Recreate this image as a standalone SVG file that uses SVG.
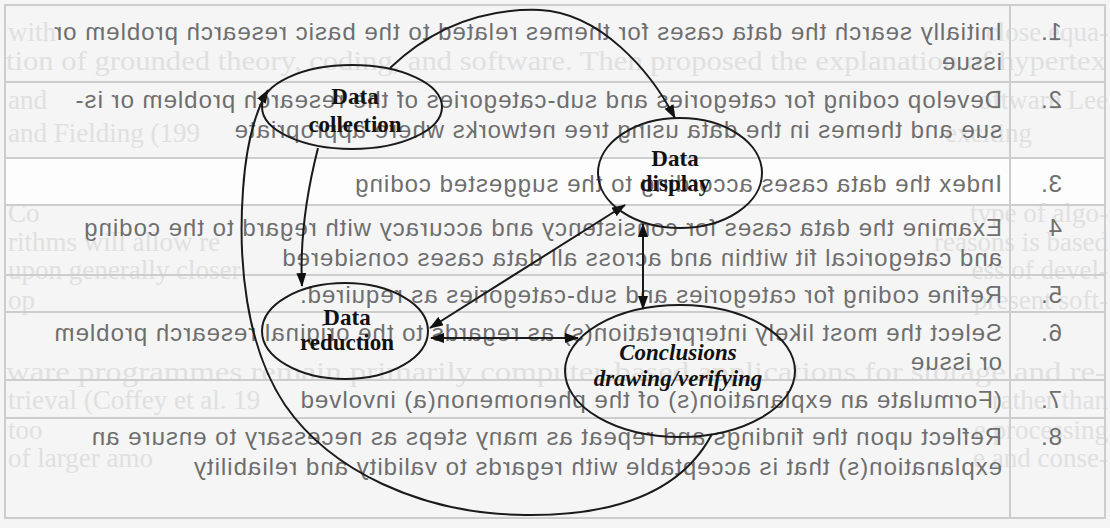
<svg xmlns="http://www.w3.org/2000/svg" width="1110" height="528" viewBox="0 0 1110 528">
<style>
.tbl{font-family:"Liberation Sans",Arial,sans-serif;font-size:24px;letter-spacing:1px;fill:#6e6e6e}
.bg{font-family:"Liberation Serif","Times New Roman",serif;font-size:27px;fill:#e0e0e0}
.bge{text-anchor:end}
.rule{stroke:#cdcdcd;stroke-width:2;fill:none}
.node{fill:none;stroke:#1a1a1a;stroke-width:2}
.lbl{font-family:"Liberation Serif","Times New Roman",serif;font-size:23px;font-weight:bold;fill:#111;text-anchor:middle}
.it{font-style:italic}
.edge{fill:none;stroke:#1a1a1a;stroke-width:2}
</style>
<defs>
<marker id="ah" viewBox="0 0 14 10" refX="13" refY="5" markerWidth="14" markerHeight="10" markerUnits="userSpaceOnUse" orient="auto-start-reverse">
<path d="M0,0 L14,5 L0,10 z" fill="#111"/>
</marker>
</defs>
<rect x="0" y="0" width="1110" height="528" fill="#f5f5f5"/>
<rect x="5" y="158" width="1100" height="47" fill="#fdfdfd"/>
<g id="page-text" class="bg">
<text x="8" y="41">with</text>
<text class="bge" x="1108" y="41">close equa-</text>
<text x="6" y="70" textLength="1100" lengthAdjust="spacingAndGlyphs">tion of grounded theory, coding, and software. Then proposed the explanation of hypertex</text>
<text x="8" y="109">and</text>
<text class="bge" x="1108" y="109">oftware Lee</text>
<text x="8" y="142">and Fielding (199</text>
<text x="945" y="142">exciting</text>
<text x="8" y="222">Co</text>
<text class="bge" x="1108" y="222">type of algo-</text>
<text x="8" y="251">rithms will allow re</text>
<text class="bge" x="1108" y="251">reasons is based</text>
<text x="8" y="279">upon generally closer</text>
<text class="bge" x="1108" y="279">ess of devel-</text>
<text x="8" y="309">op</text>
<text class="bge" x="1108" y="309">present soft-</text>
<text x="6" y="381" textLength="1100" lengthAdjust="spacingAndGlyphs">ware programmes remain primarily computer-based applications for storage and re-</text>
<text x="8" y="409">trieval (Coffey et al. 19</text>
<text class="bge" x="1108" y="409">rather than</text>
<text x="8" y="439">too</text>
<text class="bge" x="1108" y="439">e processing</text>
<text x="8" y="467">of larger amo</text>
<text class="bge" x="1108" y="467">e and conse-</text>
</g>
<g id="table">
<rect class="rule" x="5" y="5" width="1100" height="513"/>
<line class="rule" x1="1010" y1="5" x2="1010" y2="518"/>
<line class="rule" x1="5" y1="82" x2="1105" y2="82"/>
<line class="rule" x1="5" y1="158" x2="1105" y2="158"/>
<line class="rule" x1="5" y1="205" x2="1105" y2="205"/>
<line class="rule" x1="5" y1="275" x2="1105" y2="275"/>
<line class="rule" x1="5" y1="312" x2="1105" y2="312"/>
<line class="rule" x1="5" y1="380" x2="1105" y2="380"/>
<line class="rule" x1="5" y1="418" x2="1105" y2="418"/>
<g class="tbl" transform="matrix(-1 0 0 1 1110 0)">
<text x="48" y="40">1.</text>
<text x="108" y="40">Initially search the data cases for themes related to the basic research problem or</text>
<text x="108" y="70">issue</text>
<text x="48" y="108">2.</text>
<text x="108" y="108">Develop coding for categories and sub-categories of the research problem or is-</text>
<text x="108" y="138">sue and themes in the data using tree networks where appropriate</text>
<text x="48" y="192">3.</text>
<text x="108" y="192">Index the data cases according to the suggested coding</text>
<text x="48" y="236">4</text>
<text x="108" y="236">Examine the data cases for consistency and accuracy with regard to the coding</text>
<text x="108" y="266">and categorical fit within and across all data cases considered</text>
<text x="48" y="303">5.</text>
<text x="108" y="303">Refine coding for categories and sub-categories as required.</text>
<text x="48" y="341">6.</text>
<text x="108" y="341">Select the most likely interpretation(s) as regards to the original research problem</text>
<text x="108" y="370">or issue</text>
<text x="48" y="408">7.</text>
<text x="108" y="408">(Formulate an explanation(s) of the phenomenon(a) involved</text>
<text x="48" y="445">8.</text>
<text x="108" y="445">Reflect upon the findings and repeat as many steps as necessary to ensure an</text>
<text x="108" y="475">explanation(s) that is acceptable with regards to validity and reliability</text>
</g>
</g>
<g id="connectors">
<path class="edge" d="M390,68 C430,30 480,8 540,10 C600,13 650,70 675,118" marker-end="url(#ah)"/>
<path class="edge" d="M318,148 C306,195 300,245 302,286" marker-end="url(#ah)"/>
<path class="edge" d="M625,205 L430,328" marker-start="url(#ah)" marker-end="url(#ah)"/>
<path class="edge" d="M643,224 L643,309" marker-start="url(#ah)" marker-end="url(#ah)"/>
<path class="edge" d="M431,338 L578,338" marker-start="url(#ah)" marker-end="url(#ah)"/>
<path class="edge" d="M712,434 C680,495 610,516 525,515 C420,514 330,470 285,405 C245,345 238,260 243,190 C246,145 255,112 268,90" marker-end="url(#ah)"/>
</g>
<g id="data-collection">
<ellipse class="node" cx="352" cy="107" rx="90" ry="42"/>
<text class="lbl" x="355" y="104">Data</text>
<text class="lbl" x="355" y="132">collection</text>
</g>
<g id="data-display">
<ellipse class="node" cx="680" cy="173" rx="82" ry="55"/>
<text class="lbl" x="675" y="166">Data</text>
<text class="lbl" x="675" y="191">display</text>
</g>
<g id="data-reduction">
<ellipse class="node" cx="345" cy="331" rx="83" ry="48"/>
<text class="lbl" x="347" y="325">Data</text>
<text class="lbl" x="347" y="350">reduction</text>
</g>
<g id="conclusions">
<ellipse class="node" cx="680" cy="371" rx="115" ry="66"/>
<text class="lbl it" x="678" y="360">Conclusions</text>
<text class="lbl it" x="678" y="386">drawing/verifying</text>
</g>
</svg>
